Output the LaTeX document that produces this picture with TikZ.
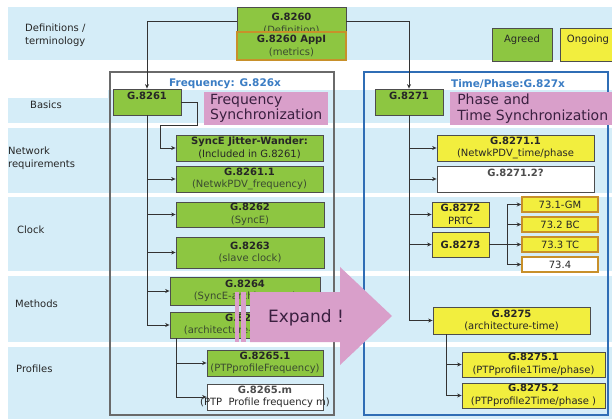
\documentclass[tikz,border=0pt]{standalone}
\usepackage{fontspec}
\setmainfont{DejaVu Sans}
\usetikzlibrary{arrows.meta}
\definecolor{band}{HTML}{D5EDF8}
\definecolor{agreen}{HTML}{8DC641}
\definecolor{oyellow}{HTML}{F2EE3E}
\definecolor{gold}{HTML}{C8902A}
\definecolor{boxline}{HTML}{4D4D4D}
\definecolor{lineclr}{HTML}{333333}
\definecolor{txt}{HTML}{262626}
\definecolor{subtxt}{HTML}{3A4A30}
\definecolor{pinkc}{HTML}{D99FCA}
\definecolor{pinktxt}{HTML}{3A2040}
\definecolor{titleblue}{HTML}{3B7DC4}
\definecolor{framegray}{HTML}{6A6A6A}
\definecolor{frameblue}{HTML}{2F6DB5}
\newcommand{\zw}[1]{\makebox[0pt]{#1}}
\begin{document}
\begin{tikzpicture}[x=1pt,y=-1pt,
  box/.style={draw=boxline, line width=0.8pt, inner sep=0pt, align=center,
    font=\fontsize{10}{12.5}\selectfont, text=txt},
  agreedbox/.style={box, fill=agreen},
  ongoingbox/.style={box, fill=oyellow},
  openbox/.style={box, fill=white},
  goldbox/.style={box, draw=gold, line width=1.5pt},
  sz/.style 2 args={minimum width=#1pt, minimum height=#2pt},
  conn/.style={draw=lineclr, line width=0.8pt, -{Stealth[length=4.5pt,width=4pt]}},
  plain/.style={draw=lineclr, line width=0.8pt},
  rowlabel/.style={anchor=west, align=left, inner sep=0pt,
    font=\fontsize{10}{12.5}\selectfont, text=txt},
  pinklabel/.style={fill=pinkc, anchor=west, align=left, inner sep=2pt,
    font=\fontsize{14}{15.5}\selectfont, text=pinktxt},
  frametitle/.style={font=\fontsize{10.5}{12}\selectfont\bfseries, text=titleblue, inner sep=0pt}
]
\useasboundingbox (0,0) rectangle (612,419);
\fill[white] (0,0) rectangle (612,419);
% bands
\fill[band] (8,7) rectangle (612,60);
\fill[band] (8,90) rectangle (612,123);
\fill[band] (8,128) rectangle (612,193);
\fill[band] (8,197) rectangle (612,271);
\fill[band] (8,276) rectangle (612,342);
\fill[band] (8,347) rectangle (612,419);
\fill[white] (0,60) rectangle (108,98);
% row labels
\node[rowlabel] (lDef) at (25,35) {Definitions /\\terminology};
\node[rowlabel] (lBas) at (30,105) {Basics};
\node[rowlabel] (lNet) at (8,158) {Network\\requirements};
\node[rowlabel] (lClk) at (17,230) {Clock};
\node[rowlabel] (lMet) at (15,304) {Methods};
\node[rowlabel] (lPro) at (16,369) {Profiles};
% frames
\draw[framegray, line width=2pt] (110,72) rectangle (334,415);
\draw[frameblue, line width=2.5pt] (364,72) rectangle (608,415);
\node[frametitle] (tFreq) at (225,84) {Frequency: G.826x};
\node[frametitle] (tPhase) at (508,84) {Time/Phase:G.827x};
% legend
\node[agreedbox, sz={60}{33}] (legA) at (522,44.5) {\zw{Agreed}\\ \phantom{x}};
\node[ongoingbox, sz={56}{33}] (legO) at (588,44.5) {\zw{Ongoing}\\ \phantom{x}};
% definitions
\node[agreedbox, sz={109}{34}] (g8260) at (291.5,24) {\zw{\textbf{G.8260}}\\\zw{\color{subtxt}(Definition)}};
\node[agreedbox, goldbox, sz={109}{28}] (appI) at (291.5,46) {\zw{\textbf{G.8260 AppI}}\\\zw{\color{subtxt}(metrics)}};
% frequency column
\node[agreedbox, sz={68}{26}] (g8261) at (147,102) {\zw{\textbf{G.8261}}\\ \phantom{x}};
\node[pinklabel, minimum width=124pt, minimum height=31pt] (freqlbl) at (204,108.5) {Frequency\\Synchronization};
\node[agreedbox, sz={147}{26}] (sejw) at (249.5,148) {\zw{\textbf{SyncE Jitter-Wander:}}\\\zw{(Included in G.8261)}};
\node[agreedbox, sz={147}{26}] (g82611) at (249.5,179) {\zw{\textbf{G.8261.1}}\\\zw{\color{subtxt}(NetwkPDV\_frequency)}};
\node[agreedbox, sz={148}{25}] (g8262) at (250,214.5) {\zw{\textbf{G.8262}}\\\zw{\color{subtxt}(SyncE)}};
\node[agreedbox, sz={148}{31}] (g8263) at (250,252.5) {\zw{\textbf{G.8263}}\\\zw{\color{subtxt}(slave clock)}};
\node[agreedbox, sz={150}{28}] (g8264) at (245,291) {\zw{\textbf{G.8264}}\\\zw{\color{subtxt}(SyncE-architecture)}};
\node[agreedbox, sz={150}{26}] (g8265) at (245,325) {\zw{\textbf{G.8265}}\\\zw{\color{subtxt}(architecture-frequency)}};
\node[agreedbox, sz={116}{26}] (g82651) at (265,363) {\zw{\textbf{G.8265.1}}\\\zw{\color{subtxt}(PTPprofileFrequency)}};
\node[openbox, sz={116}{26}] (g8265m) at (265,397) {\zw{\textbf{\color{boxline}G.8265.m}}\\\zw{(PTP\ \ Profile frequency m)}};
% phase column
\node[agreedbox, sz={68}{26}] (g8271) at (409,102) {\zw{\textbf{G.8271}}\\ \phantom{x}};
\node[pinklabel, minimum width=165pt, minimum height=33pt] (phaselbl) at (450,108.5) {Phase and\\Time Synchronization};
\node[ongoingbox, sz={157}{26}] (g82711) at (515.5,148) {\zw{\textbf{G.8271.1}}\\\zw{(NetwkPDV\_time/phase}};
\node[openbox, sz={157}{26}] (g82712) at (515.5,179) {\zw{\textbf{\color{boxline}G.8271.2?}}\\ \phantom{x}};
\node[ongoingbox, sz={57}{25}] (g8272) at (460.5,214.5) {\zw{\textbf{G.8272}}\\\zw{PRTC}};
\node[ongoingbox, sz={57}{25}] (g8273) at (460.5,244.5) {\textbf{G.8273}};
\node[ongoingbox, goldbox, sz={76}{15}] (t731) at (560,204.5) {73.1-GM};
\node[ongoingbox, goldbox, sz={76}{15}] (t732) at (560,224.5) {73.2 BC};
\node[ongoingbox, goldbox, sz={76}{15}] (t733) at (560,244.5) {73.3 TC};
\node[openbox, goldbox, sz={76}{15}] (t734) at (560,264.5) {73.4};
\node[ongoingbox, sz={157}{27}] (g8275) at (511.5,320.5) {\zw{\textbf{G.8275}}\\\zw{(architecture-time)}};
\node[ongoingbox, sz={143}{25}] (g82751) at (533.5,364.5) {\zw{\textbf{G.8275.1}}\\\zw{(PTPprofile1Time/phase)}};
\node[ongoingbox, sz={143}{25}] (g82752) at (533.5,395.5) {\zw{\textbf{G.8275.2}}\\\zw{(PTPprofile2Time/phase )}};
% connectors from definitions
\draw[conn] ([yshift=3pt]g8260.west) -| (g8261.north);
\draw[conn] ([yshift=3pt]g8260.east) -| (g8271.north);
% frequency connectors
\coordinate (k1) at (197,125);
\coordinate (k2) at (160,125);
\draw[conn] (g8261.east) -| (k1) -- (k2) |- (sejw.west);
\draw[plain] (g8261.south) -- (g8261.south |- g8265.west);
\foreach \n in {g82611,g8262,g8263,g8264,g8265}
  \draw[conn] (g8261.south |- \n.west) -- (\n.west);
\coordinate (s1) at ([xshift=7pt]g8265.south west);
\draw[conn] (s1) |- (g8265m.west);
\draw[conn] (s1 |- g82651.west) -- (g82651.west);
% phase connectors
\draw[plain] (g8271.south) -- (g8271.south |- g8275.west);
\foreach \n in {g82711,g82712,g8272,g8273,g8275}
  \draw[conn] (g8271.south |- \n.west) -- (\n.west);
\coordinate (fan) at ([xshift=18pt]g8273.east);
\draw[plain] (g8273.east) -- (fan);
\draw[plain] (fan |- t731.west) -- (fan |- t734.west);
\foreach \n in {t731,t732,t733,t734}
  \draw[conn] (fan |- \n.west) -- (\n.west);
\coordinate (s2) at ([xshift=14pt]g8275.south west);
\draw[conn] (s2) |- (g82752.west);
\draw[conn] (s2 |- g82751.west) -- (g82751.west);
% expand arrow
\fill[pinkc] (235,292) rectangle (239,342);
\fill[pinkc] (241,292) rectangle (246,342);
\fill[pinkc] (250,292) -- (340,292) -- (340,267) -- (392,316) -- (340,365) -- (340,342) -- (250,342) -- cycle;
\node[font=\fontsize{17}{20}\selectfont, text=pinktxt, inner sep=0pt] (expand) at (306,318) {Expand !};
\end{tikzpicture}
\end{document}
